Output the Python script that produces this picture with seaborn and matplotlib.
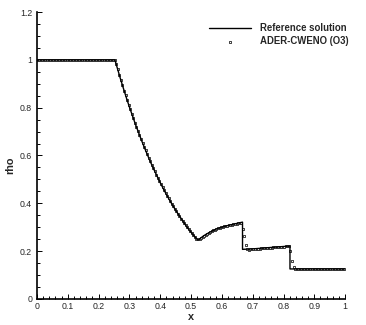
import numpy as np
import seaborn as sns
import matplotlib.pyplot as plt
from matplotlib.ticker import MultipleLocator, FormatStrFormatter

# ------------------------------------------------------------------ #
# Reference (exact) solution
ref_x = [0.0, 0.253,
         0.26, 0.27, 0.28, 0.29, 0.30, 0.31, 0.32, 0.33, 0.34, 0.35,
         0.36, 0.37, 0.38, 0.39, 0.40, 0.41, 0.42, 0.43, 0.44, 0.45,
         0.46, 0.47, 0.48, 0.49, 0.50, 0.51, 0.52,
         0.523, 0.53,
         0.54, 0.55, 0.56, 0.57, 0.58, 0.59, 0.60, 0.61, 0.62, 0.63,
         0.64, 0.65, 0.66,
         0.667, 0.667, 0.70, 0.75, 0.80, 0.821, 0.821, 1.0]
ref_rho = [1.0, 1.0,
           0.969, 0.925, 0.883, 0.842, 0.803, 0.766, 0.729, 0.695, 0.661, 0.629,
           0.598, 0.568, 0.540, 0.513, 0.486, 0.461, 0.437, 0.414, 0.392, 0.371,
           0.351, 0.332, 0.313, 0.295, 0.279, 0.263, 0.248,
           0.246, 0.253,
           0.263, 0.271, 0.278, 0.285, 0.291, 0.296, 0.300, 0.304, 0.307, 0.310,
           0.313, 0.316, 0.319,
           0.321, 0.207, 0.209, 0.214, 0.219, 0.221, 0.125, 0.125]

# ADER-CWENO (O3) numerical solution, 200 cells on [0, 1]
n_cells = 200
num_x = np.linspace(0.0025, 0.9975, n_cells)
num_rho = [1.0, 1.0, 1.0, 1.0, 1.0, 1.0, 1.0, 1.0, 1.0, 1.0,
           1.0, 1.0, 1.0, 1.0, 1.0, 1.0, 1.0, 1.0, 1.0, 1.0,
           1.0, 1.0, 1.0, 1.0, 1.0, 1.0, 1.0, 1.0, 1.0, 1.0,
           1.0, 1.0, 1.0, 1.0, 1.0, 1.0, 1.0, 1.0, 1.0, 1.0,
           1.0, 1.0, 1.0, 1.0, 1.0, 1.0, 1.0, 1.0, 1.0, 1.0,
           0.998, 0.985, 0.960, 0.936, 0.914, 0.893, 0.872, 0.852, 0.832, 0.813,
           0.794, 0.775, 0.757, 0.738, 0.721, 0.703, 0.686, 0.670, 0.653, 0.637,
           0.621, 0.606, 0.591, 0.576, 0.561, 0.547, 0.533, 0.520, 0.506, 0.493,
           0.480, 0.468, 0.455, 0.443, 0.432, 0.420, 0.409, 0.398, 0.387, 0.376,
           0.366, 0.356, 0.346, 0.336, 0.327, 0.318, 0.309, 0.300, 0.291, 0.283,
           0.275, 0.267, 0.259, 0.251,
           0.249,
           0.252, 0.255, 0.260, 0.265, 0.269, 0.273, 0.276, 0.280, 0.283, 0.287,
           0.290, 0.292, 0.295, 0.297, 0.299, 0.301, 0.303, 0.305, 0.306, 0.308,
           0.309, 0.311, 0.312, 0.314, 0.315, 0.317, 0.318, 0.319,
           0.292, 0.262, 0.226, 0.209, 0.206,
           0.207, 0.208, 0.208, 0.209, 0.209, 0.210, 0.210, 0.211, 0.211, 0.212,
           0.212, 0.213, 0.213, 0.214, 0.214, 0.215, 0.215, 0.216, 0.216, 0.217,
           0.217, 0.218, 0.218, 0.219, 0.219, 0.220,
           0.200, 0.160, 0.133, 0.126,
           0.125, 0.125, 0.125, 0.125, 0.125, 0.125, 0.125, 0.125, 0.125, 0.125,
           0.125, 0.125, 0.125, 0.125, 0.125, 0.125, 0.125, 0.125, 0.125, 0.125,
           0.125, 0.125, 0.125, 0.125, 0.125, 0.125, 0.125, 0.125, 0.125, 0.125,
           0.125, 0.125]

x_ticks = [0, 0.1, 0.2, 0.3, 0.4, 0.5, 0.6, 0.7, 0.8, 0.9, 1]
y_ticks = [0, 0.2, 0.4, 0.6, 0.8, 1.0, 1.2]

# ------------------------------------------------------------------ #
# Style
sns.set_style('ticks')
plt.rcParams['font.family'] = ['Liberation Sans', 'DejaVu Sans']

fig = plt.figure(figsize=(3.66, 3.25), dpi=100)
ax = fig.add_axes([0.101, 0.0806, 0.842, 0.882])

# Plot the reference solution and the numerical solution
sns.lineplot(x=ref_x, y=ref_rho, ax=ax, color='black', linewidth=1.0,
             sort=False, estimator=None, label='Reference solution', zorder=3)
sns.scatterplot(x=num_x, y=num_rho, ax=ax, marker='s', s=3.5,
                facecolor='white', edgecolor='#222222', linewidth=0.6,
                label='ADER-CWENO (O3)', zorder=2)

# Axes limits and ticks
ax.set_xlim(0, 1)
ax.set_ylim(0, 1.2)
ax.set_xticks(x_ticks)
ax.set_yticks(y_ticks)
ax.xaxis.set_minor_locator(MultipleLocator(0.02))
ax.yaxis.set_minor_locator(MultipleLocator(0.05))
ax.xaxis.set_major_formatter(FormatStrFormatter('%g'))
ax.yaxis.set_major_formatter(FormatStrFormatter('%g'))
ax.tick_params(which='both', direction='in', labelsize=6.3, width=0.7, color='black')
ax.tick_params(which='major', length=3.6)
ax.tick_params(which='minor', length=2.3)
ax.tick_params(axis='x', pad=2)
ax.tick_params(axis='y', pad=3.5)

sns.despine(ax=ax)
for side in ['left', 'bottom']:
    ax.spines[side].set_linewidth(1.2)
    ax.spines[side].set_color('black')

# Label the axes
ax.set_xlabel('x', fontsize=7.8, fontweight='bold')
ax.set_ylabel('rho', fontsize=7.8, fontweight='bold')
ax.xaxis.set_label_coords(0.5, -0.045)
ax.yaxis.set_label_coords(-0.072, 0.467)

# Legend
leg = ax.legend(loc='upper right', bbox_to_anchor=(1.025, 0.975), frameon=False,
                prop={'size': 6.9, 'weight': 'bold'}, handlelength=4.4,
                handletextpad=1.0, labelspacing=0.3, borderaxespad=0)

fig.savefig('out.png', dpi=100)
